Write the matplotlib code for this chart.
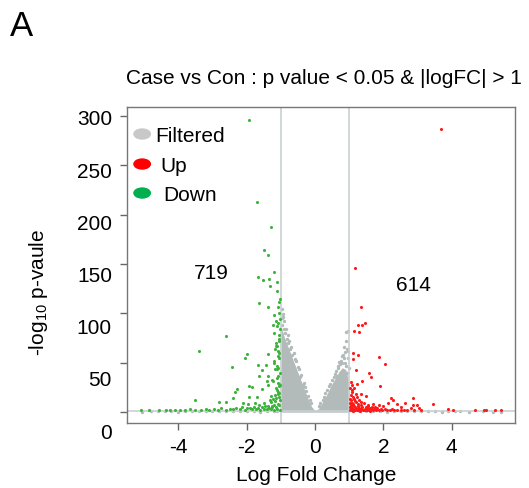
import matplotlib
matplotlib.use('Agg')
import matplotlib.pyplot as plt
from matplotlib.patches import Ellipse
import matplotlib.transforms as mtransforms

plt.rcParams['font.family'] = ['Liberation Sans', 'DejaVu Sans']
plt.rcParams['mathtext.fontset'] = 'custom'
plt.rcParams['mathtext.rm'] = 'Liberation Sans'
plt.rcParams['mathtext.it'] = 'Liberation Sans:italic'

# dichter grauer Kern (obere Kante)
env_x = [-1.0, -0.95, -0.9, -0.8, -0.7, -0.6, -0.5, -0.4, -0.3, -0.2, -0.1, 0.0,
         0.1, 0.2, 0.3, 0.4, 0.5, 0.6, 0.7, 0.8, 0.9, 0.95, 1.0]
env_y = [88, 82, 76, 67, 58, 49, 40, 31, 22, 13, 5.5, 1.5,
         3.5, 9, 15, 22, 29, 35, 41, 45, 43, 36, 28]

# einzelne graue Punkte (Rand + Ausläufer unten)
gray_x = [-0.97, -0.93, -0.95, -0.9, -0.85, -0.8, -0.75, -0.7, -0.62, -0.55, -0.47,
          -0.4, -0.33, -0.25, -0.15, 0.15, 0.25, 0.35, 0.45, 0.55, 0.62, 0.68, 0.75,
          0.82, 0.85, 0.9, 0.91, 0.96, 0.88, 0.93, 0.78, 0.83, 0.63, 0.97, 0.95,
          -0.98, -0.96, -0.92, -0.88, -0.83, -0.78, -0.72, -0.66, -0.58, -0.51,
          -0.44, -0.36, -0.28, -0.2, -0.12, 0.12, 0.22, 0.3, 0.4, 0.5, 0.58,
          0.66, 0.72, 0.8, 0.86, 0.92, 0.98, 0.94, 0.87, 0.7,
          -5.05, -4.8, -4.6, -4.4, -4.2, -4.0, -3.8, -3.6, -3.4, -3.2, -3.0, -2.8,
          -2.6, -2.4, -2.2, -2.0, -1.8, -1.6, -1.4, -1.2, -1.1,
          1.1, 1.3, 1.5, 1.7, 1.9, 2.1, 2.3, 2.5, 2.7, 2.9, 3.1, 3.3, 3.5, 3.7,
          3.9, 4.1, 4.25, 4.5, 4.9, 5.2, 5.43]
gray_y = [104, 96, 99, 92, 84, 78, 72, 66, 60, 52, 44,
          38, 30, 21, 12, 9, 15, 22, 29, 36, 42, 47, 52,
          58, 66, 72, 81, 82, 50, 40, 57, 42, 37, 62, 55,
          95, 88, 84, 80, 74, 70, 64, 58, 54, 46,
          36, 27, 25, 16, 9, 6, 12, 19, 26, 33, 39,
          45, 49, 50, 55, 47, 45, 64, 61, 51,
          0.6, 0.9, 0.7, 1.0, 0.8, 0.6, 1.1, 0.9, 0.7, 1.0, 0.8, 1.2,
          0.9, 0.7, 1.1, 0.8, 1.0, 0.6, 0.9, 1.1, 0.8,
          0.8, 1.0, 0.7, 1.1, 0.9, 0.6, 1.0, 0.8, 1.2, 0.7, 0.9, 1.0, 0.8, 0.6,
          1.1, 0.9, 0.7, 0.5, 0.8, 0.6, 0.2]

up_x = [3.67, 1.18, 1.34, 1.27, 1.36, 1.47, 1.14, 1.29, 1.11, 1.27, 1.88, 1.11,
        2.05, 1.21, 1.59, 1.65, 1.38, 1.04, 1.09, 1.24, 1.90, 1.15, 1.34, 1.07,
        1.23, 1.48, 2.21, 2.27, 2.87, 2.62, 2.13, 2.39, 3.45, 2.97, 2.86, 1.87,
        1.70, 1.56, 1.76, 2.0, 2.51, 3.05, 2.81, 3.90, 4.04, 4.68, 4.95, 4.99,
        5.26, 5.43,
        1.03, 1.05, 1.08, 1.1, 1.12, 1.15, 1.18, 1.2, 1.22, 1.25, 1.28, 1.3, 1.33,
        1.35, 1.38, 1.4, 1.43, 1.45, 1.48, 1.5, 1.53, 1.55, 1.58, 1.6, 1.63, 1.66,
        1.7, 1.73, 1.78, 1.82, 1.86, 1.92, 1.97, 2.05, 2.1, 2.18, 2.25, 2.32, 2.4,
        2.5, 2.6, 2.7, 2.9, 3.1, 1.06, 1.1, 1.04, 1.13, 1.2, 1.09, 1.16, 1.28,
        1.34, 1.02, 1.01, 1.01, 1.02, 1.07, 1.12, 1.17, 1.24, 1.31, 1.42, 1.52,
        1.62, 1.04, 1.09, 1.14, 1.19, 1.26]
up_y = [286.7, 145.9, 106, 88, 88, 90, 81.7, 81.4, 59.8, 58, 56, 53.7,
        48.3, 42.9, 39.8, 35.5, 31.7, 30.7, 27.4, 28.4, 26, 24, 18.2, 20,
        14.9, 15.9, 14.2, 11.8, 14.2, 9.4, 9.1, 8.1, 8.1, 7.1, 7.1, 7.1,
        7.8, 6.4, 4.8, 6.4, 4.8, 3.7, 3.7, 3.0, 2.0, 2.3, 2.3, 2.3,
        2.3, 2.3,
        2, 4, 6, 3, 8, 2.5, 5, 10, 3, 6, 2, 4, 7,
        3, 5, 2, 9, 3, 5, 2, 4, 7, 2.5, 4, 3, 5,
        2, 3.5, 2.5, 4, 2, 3, 2, 3, 2, 2.5, 3, 2, 2.5,
        2, 2.5, 2, 2.5, 2, 12, 15, 17, 13, 18, 22, 11, 12,
        10, 9, 5, 13, 24, 1.8, 1.6, 1.9, 1.7, 1.6, 1.8, 1.7,
        1.6, 7, 9.5, 6.5, 4.5, 8.5]

down_x = [-1.92, -1.71, -1.30, -1.49, -1.39, -1.20, -1.67, -1.51, -1.35, -1.12,
          -1.32, -1.12, -1.63, -1.06, -1.39, -1.08, -1.2, -1.15, -1.22, -1.11,
          -2.60, -1.2, -1.1, -1.05, -1.18, -1.04, -3.39, -2.0, -2.04, -1.37,
          -1.67, -1.43, -2.43, -1.55, -1.2, -1.12, -1.07, -1.22, -1.06, -1.15,
          -1.08, -1.65, -1.41, -1.37, -1.37, -1.94, -1.84, -2.29, -1.56, -2.33,
          -1.70, -1.94, -2.39, -3.51, -2.82, -2.60, -2.11, -1.95, -1.77, -1.64,
          -1.49, -1.29, -1.39, -1.19,
          -5.1, -4.85, -4.55, -4.35, -4.25, -4.1, -3.95, -3.8, -3.65, -3.5,
          -3.35, -3.2, -3.1, -2.95, -2.85, -2.75, -2.6, -2.5, -2.4, -2.3, -2.2,
          -2.15, -2.05, -1.98, -1.9, -1.85, -1.78, -1.72, -1.66, -1.6, -1.55,
          -1.5, -1.45, -1.4, -1.35, -1.3, -1.25, -1.2, -1.15, -1.1, -1.05, -1.02,
          -1.03, -1.06, -1.09, -1.13, -1.17, -1.04, -1.08, -1.12, -1.16, -1.24,
          -1.28, -1.33, -1.03, -1.07, -1.11, -1.05, -1.09, -1.14, -1.19, -1.26,
          -1.02, -1.04, -1.06, -1.03, -1.08, -1.05, -1.02, -1.07, -1.1, -1.03,
          -1.13, -1.05, -1.18, -1.09, -1.25]
down_y = [296, 213, 187.4, 164.5, 159.4, 141.5, 136.8, 134, 134.8, 131.4,
          128, 122.6, 111, 111.8, 106, 106, 98, 92, 88, 87,
          76.7, 80, 67, 74, 64, 60, 62.1, 58.8, 54.4, 58.4,
          47.9, 47.9, 45.9, 42.9, 50, 44, 37, 32, 29, 24,
          20, 36.8, 31.7, 37, 27, 26, 25, 23.3, 23.3, 20,
          14.9, 14.9, 14.5, 12.2, 10.4, 9.8, 9.5, 8, 9.5, 7,
          9.5, 10, 6.5, 7,
          2.5, 2.2, 1.8, 2.4, 2.0, 2.6, 1.9, 2.2, 2.8, 2.1,
          2.5, 3.0, 2.2, 3.2, 2.6, 4.0, 2.4, 3.5, 2.8, 4.2, 3.0,
          5.0, 2.6, 3.8, 4.5, 2.8, 5.5, 3.2, 4.2, 2.6, 5.2,
          3.4, 6.0, 2.8, 4.6, 3.6, 6.5, 2.6, 5.0, 3.4, 7.0, 2.4,
          12, 15, 18, 14, 11, 26, 30, 22, 17, 13,
          16, 12, 40, 45, 35, 55, 62, 70, 52, 33,
          84, 78, 72, 94, 90, 100, 115, 57, 47, 28,
          67, 19, 44, 8, 5]

n_down = 719
n_up = 614

yticks = [0, 50, 100, 150, 200, 250, 300]
xticks = [-4, -2, 0, 2, 4]

c_gray = '#b3baba'
c_up = '#ff1a1a'
c_down = '#3cb43c'
c_line = '#c9d0d1'

fig = plt.figure(figsize=(5.29, 4.89), dpi=100)
ax = fig.add_axes([0.2401, 0.1329, 0.7335, 0.6462])

ax.fill_between(env_x, 0, env_y, color=c_gray, lw=0, zorder=1)
ax.scatter(gray_x, gray_y, s=6, color=c_gray, lw=0, zorder=1)

ax.axvline(-1, color=c_line, lw=1.2, zorder=1.5)
ax.axvline(1, color=c_line, lw=1.2, zorder=1.5)
ax.axhline(1.3, color=c_line, lw=1.2, zorder=1.5)

ax.scatter(up_x, up_y, s=5, color=c_up, lw=0, zorder=2)
ax.scatter(down_x, down_y, s=5, color=c_down, lw=0, zorder=2)

ax.set_xlim(-5.5, 5.85)
ax.set_ylim(-11, 309)

ax.set_xticks(xticks)
ax.set_xticklabels([str(t) if t >= 0 else '-' + str(-t) for t in xticks], fontsize=15)
ax.set_yticks(yticks)
ax.set_yticklabels([])
ax.tick_params(colors='#666666', length=5, width=1, labelcolor='black', pad=5)
for sp in ax.spines.values():
    sp.set_color('#777777')
    sp.set_linewidth(1)

# y-Beschriftungen leicht nach unten versetzt wie im Original
trans = mtransforms.blended_transform_factory(ax.transAxes, ax.transData)
for t in yticks:
    ax.text(-0.039, -20.3 + t * 1.0575, str(t), transform=trans,
            ha='right', va='center', fontsize=15, clip_on=False)

ax.text(-3.04, 141.8, str(n_down), ha='center', va='center', fontsize=15)
ax.text(2.87, 129.7, str(n_up), ha='center', va='center', fontsize=15)

# Legende von Hand
leg = [('Filtered', '#c8c8c8', 0.9146, 0.074), ('Up', '#ff0000', 0.8196, 0.085),
       ('Down', '#00b050', 0.7278, 0.093)]
for label, col, ly, tx in leg:
    ax.add_patch(Ellipse((0.039, ly), 0.046, 0.036, transform=ax.transAxes,
                         color=col, lw=0, zorder=3))
    ax.text(tx, ly - 0.005, label, transform=ax.transAxes, ha='left', va='center',
            fontsize=15, zorder=3)

fig.text(10 / 529, 1 - 27 / 489, 'A', fontsize=25, ha='left', va='center')
fig.text(324 / 529, 1 - 78 / 489, 'Case vs Con : p value < 0.05 & |logFC| > 1',
         fontsize=15, ha='center', va='center')
fig.text(316 / 529, 1 - 476 / 489, 'Log Fold Change', fontsize=15,
         ha='center', va='center')
fig.text(38 / 529, 1 - 292 / 489, '-log$_{10}$ p-vaule', fontsize=15,
         ha='center', va='center', rotation=90)

fig.savefig('out.png', dpi=100)
